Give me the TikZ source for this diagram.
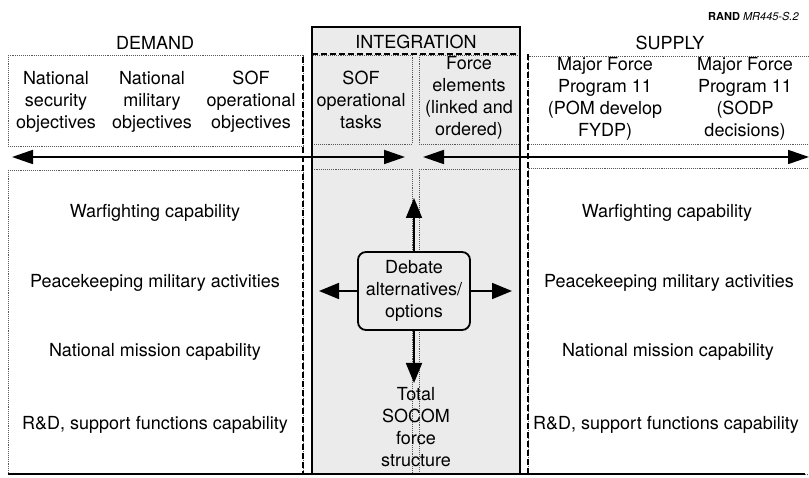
\documentclass[tikz,border=0pt]{standalone}
\usepackage{fontspec}
\setmainfont{TeX Gyre Heros}
\usetikzlibrary{arrows.meta}

\begin{document}
\begin{tikzpicture}[x=1pt,y=-1pt,
      dotbox/.style={draw=black!65,densely dotted,line width=0.9pt},
      dashln/.style={line width=2pt,dash pattern=on 6pt off 3pt},
      bigarrow/.style={line width=1.8pt,{Triangle[length=21pt,width=14pt]}-{Triangle[length=21pt,width=14pt]}},
      onearrow/.style={line width=1.8pt,-{Triangle[length=20pt,width=16pt]}},
      txt/.style={font=\fontsize{18}{22}\selectfont,align=center,inner sep=0pt}]
      \useasboundingbox (0,0) rectangle (809,478);

      % integration column
      \fill[black!8] (312,27) rectangle (520,474);

      % dotted boxes
      \draw[dotbox] (8,55) rectangle (303,146);
      \draw[dotbox] (8,170) rectangle (303,474);
      \draw[dotbox] (312,55) rectangle (412,144);
      \draw[dotbox] (419,55) rectangle (520,144);
      \draw[dotbox] (312,169) rectangle (412,474);
      \draw[dotbox] (419,169) rectangle (520,474);
      \draw[dotbox] (528,56) rectangle (815,144);
      \draw[dotbox] (528,168) rectangle (815,474);

      % dashed borders
      \draw[dashln] (312,54) -- (520,54);
      \foreach \x/\y in {303/57,528/54}  {
      	\draw[dashln] (\x,\y) -- (\x,474);
      }
      \draw[line width=2.4pt] (312,27) rectangle (520,474);
      \draw[line width=2.2pt] (8,474) -- (805,474);

      % headings
      \node[txt] (demand) at (155,43) {DEMAND};
      \node[txt] (integ) at (416,42) {INTEGRATION};
      \node[txt] (supply) at (670,43) {SUPPLY};
      \node[anchor=west,inner sep=0pt,font=\fontsize{11}{13}\selectfont] (rand) at (708,16) {\textbf{RAND} \textit{MR445-S.2}};

      % top row
      \node[txt] (natsec) at (56,102) {National\\security\\objectives};
      \node[txt] (natmil) at (152,102) {National\\military\\objectives};
      \node[txt] (sofobj) at (251,102) {SOF\\operational\\objectives};
      \node[txt] (softask) at (361,100) {SOF\\operational\\tasks};
      \node[txt] (forcel) at (469,98) {Force\\elements\\(linked and\\ordered)};
      \node[txt] (mfppom) at (605,99) {Major Force\\Program 11\\(POM develop\\FYDP)};
      \node[txt] (mfpsodp) at (745,99) {Major Force\\Program 11\\(SODP\\decisions)};

      % arrows between demand and supply
      \coordinate (dl) at (12,157);
      \coordinate (dr) at (405,157);
      \coordinate (sl) at (423,157);
      \coordinate (sr) at (809,157);
      \draw[bigarrow] (dl) -- (dr);
      \draw[bigarrow] (sl) -- (sr);

      % capabilities
      \node[txt] (dwar) at (155,213) {Warfighting capability};
      \node[txt] (dpeace) at (155,283) {Peacekeeping military activities};
      \node[txt] (dnat) at (155,352) {National mission capability};
      \node[txt] (drd) at (155,425) {R\&D, support functions capability};
      \node[txt] (swar) at (667,213) {Warfighting capability};
      \node[txt] (speace) at (669,283) {Peacekeeping military activities};
      \node[txt] (snat) at (668,352) {National mission capability};
      \node[txt] (srd) at (666,425) {R\&D, support functions capability};

      % debate
      \node[txt,draw,fill=black!8,rounded corners=8pt,line width=1.8pt,minimum width=112pt,minimum height=78pt] (debate) at (414,291) {Debate\\alternatives/\\options};
      \node[txt] (total) at (416,427) {Total\\SOCOM\\force\\structure};
      \coordinate (up) at (414,198);
      \coordinate (lft) at (319,291);
      \coordinate (rgt) at (512,291);
      \coordinate (dn) at (414,383);
      \draw[onearrow] (debate.north) -- (up);
      \draw[onearrow] (debate.west) -- (lft);
      \draw[onearrow] (debate.east) -- (rgt);
      \draw[onearrow] (debate.south) -- (dn);

      \end{tikzpicture}
\end{document}
